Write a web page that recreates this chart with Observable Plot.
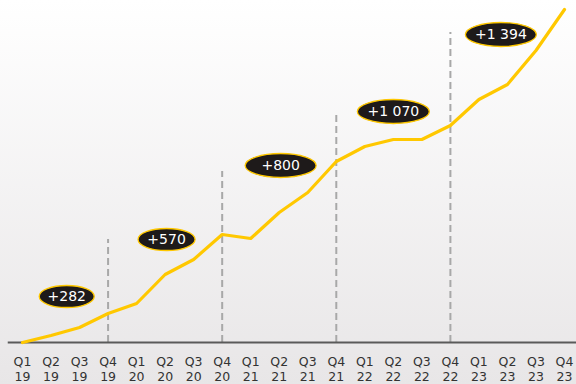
<!DOCTYPE html>
<html>
<head>
<meta charset="utf-8">
<script src="https://cdn.jsdelivr.net/npm/d3@7"></script>
<script src="https://cdn.jsdelivr.net/npm/@observablehq/plot@0.6"></script>
<style>
  html, body { margin: 0; padding: 0; }
  body { width: 576px; height: 384px; overflow: hidden; font-family: "DejaVu Sans", sans-serif; }
</style>
</head>
<body>
<div id="chart"></div>
<script>
// Quarters and years (tick labels)
const quarters = ["Q1","Q2","Q3","Q4","Q1","Q2","Q3","Q4","Q1","Q2","Q3","Q4","Q1","Q2","Q3","Q4","Q1","Q2","Q3","Q4"];
const years    = ["19","19","19","19","20","20","20","20","21","21","21","21","22","22","22","22","23","23","23","23"];
// Series values (relative units)
const values   = [0, 7, 15, 29, 39, 68, 83, 108, 104, 130, 150, 181, 196, 203, 203, 217, 243, 258, 292, 333];

// Year-end markers (dashed lines at each Q4 except last)
const markerIndex = [3, 7, 11, 15];
const markerTop   = [103, 171, 227, 310];

// Annual increase labels
const labelText = ["+282", "+570", "+800", "+1 070", "+1 394"];
const labelX    = [1.55, 5.05, 9.05, 13.0, 16.77];
const labelY    = [46, 103, 177, 231, 308];

// styles
const labelHalfWidth = [27.5, 28.5, 35.5, 36, 35.5];
const YELLOW = "#ffc800";

const series = values.map((v, i) => ({i, v}));
const markers = markerIndex.map((i, k) => ({i, top: markerTop[k]}));
const labels = labelText.map((t, k) => ({t, x: labelX[k], y: labelY[k], hw: labelHalfWidth[k]}));

const ellipse = {
  draw(ctx, size) {
    const rx = Math.sqrt(size / Math.PI);
    const ry = rx > 30 ? 12 : 11;
    const k = 0.5523;
    ctx.moveTo(rx, 0);
    ctx.bezierCurveTo(rx, k * ry, k * rx, ry, 0, ry);
    ctx.bezierCurveTo(-k * rx, ry, -rx, k * ry, -rx, 0);
    ctx.bezierCurveTo(-rx, -k * ry, -k * rx, -ry, 0, -ry);
    ctx.bezierCurveTo(k * rx, -ry, rx, -k * ry, rx, 0);
    ctx.closePath();
  }
};

const chart = Plot.plot({
  width: 576,
  height: 384,
  marginLeft: 22,
  marginRight: 12,
  marginTop: 8,
  marginBottom: 42,
  style: {
    background: "linear-gradient(#ffffff, #e8e6e7)",
    fontFamily: "DejaVu Sans, sans-serif",
    overflow: "visible"
  },
  x: {domain: [0, 19]},
  y: {domain: [0, 334], axis: null},
  r: {type: "identity"},
  marks: [
    Plot.ruleX(markers, {x: "i", y1: 0, y2: "top", stroke: "#a8a8a8", strokeWidth: 2, strokeDasharray: "7,4"}),
    Plot.ruleY([0], {x1: -0.5, x2: 19.5, stroke: "#5a5a5a", strokeWidth: 2}),
    Plot.line(series, {x: "i", y: "v", stroke: YELLOW, strokeWidth: 3.2, strokeLinejoin: "round"}),
    Plot.axisX({
      ticks: d3.range(quarters.length),
      tickFormat: (i) => `${quarters[i]}\n${years[i]}`,
      tickSize: 0,
      tickPadding: 12,
      fontSize: 12.5,
      lineHeight: 1.26,
      fill: "#333333",
      label: null
    }),
    Plot.dot(labels, {x: "x", y: "y", r: "hw", symbol: ellipse, fill: "#1e1a1a", stroke: YELLOW, strokeWidth: 1.3}),
    Plot.text(labels, {x: "x", y: "y", text: "t", fill: "white", fontSize: 14, fontFamily: "DejaVu Sans, sans-serif"})
  ]
});
document.getElementById("chart").appendChild(chart);
</script>
</body>
</html>
